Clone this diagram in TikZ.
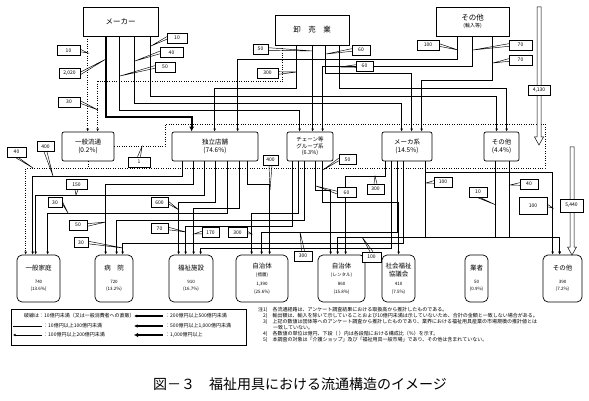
\documentclass[tikz,border=0pt]{standalone}
\usepackage{fontspec}
\setmainfont{Noto Sans CJK JP}
\usetikzlibrary{arrows.meta}
\newcommand\nsm{\fontsize{4.5}{5.2}\selectfont}
\newcommand\flowc[6][]{\draw[cn,#1] (#2.south west) ++(#3,0) -- ++(0,#4) -| ([xshift=#6pt]#5.north west);}
\newcommand\labh[6][20]{\node[lbl,minimum width=#1pt] (#2) at (#3) {#4};\draw[tailc] ([yshift=1.3pt]#2.#5) -- (#6) -- ([yshift=-1.3pt]#2.#5);}
\newcommand\labv[6][20]{\node[lbl,minimum width=#1pt] (#2) at (#3) {#4};\draw[tailc] ([xshift=1.5pt]#2.#5) -- (#6) -- ([xshift=-1.5pt]#2.#5);}
\tikzset{
 cn/.style={line width=.6pt,-{Latex[length=3pt,width=2.6pt]}},
 w1/.style={line width=.6pt},
 w2/.style={line width=.85pt},
 w3/.style={line width=1.1pt},
 w4/.style={line width=1.5pt},
 w5/.style={line width=2.2pt,-{Latex[length=5pt,width=5pt]}},
 dot/.style={line width=.65pt,dash pattern=on .6pt off 1.8pt},
 lbl/.style={draw,line width=.5pt,fill=white,inner sep=.5pt,minimum height=10pt,font=\fontsize{5}{5}\selectfont},
 tailc/.style={line width=.45pt},
 topbox/.style={draw,line width=.7pt,inner sep=0pt,align=center,font=\fontsize{7.5}{9}\selectfont},
 midbox/.style={draw,line width=.7pt,rounded corners=2pt,inner sep=0pt,align=center,minimum height=29pt,font=\fontsize{6.5}{7.5}\selectfont},
 botbox/.style={draw,line width=.7pt,rounded corners=5pt,inner sep=0pt,align=center,minimum height=47pt,font=\fontsize{6.5}{7.5}\selectfont},
 lgt/.style={inner sep=0pt,font=\fontsize{5}{6}\selectfont},
}
\begin{document}
\begin{tikzpicture}[x=1pt,y=-1pt]
\useasboundingbox (0,0) rectangle (589,401);
% top nodes
\node[topbox,minimum width=75pt,minimum height=29pt] (maker) at (120.5,21.5) {メーカー};
\node[topbox,minimum width=74pt,minimum height=30pt] (oroshi) at (312,30) {卸　売　業};
\node[topbox,minimum width=73pt,minimum height=29pt] (sonotaIn) at (472.5,21.5) {その他\\[-2pt]{\fontsize{5}{6}\selectfont (輸入等)}};
% middle nodes
\node[midbox,minimum width=52pt] (ippan) at (88,146.5) {一般流通\\(0.2\%)};
\node[midbox,minimum width=86pt] (dok) at (215,146.5) {独立店舗\\(74.6\%)};
\node[midbox,minimum width=46pt,font=\fontsize{5.5}{6.3}\selectfont] (chain) at (310,146.5) {チェーン等\\グループ系\\(6.3\%)};
\node[midbox,minimum width=50pt] (makerkei) at (407,146.5) {メーカ系\\(14.5\%)};
\node[midbox,minimum width=35pt] (sonotaM) at (501.5,146.5) {その他\\(4.4\%)};
% bottom nodes
\node[botbox,minimum width=43pt] (home) at (38.5,278.5) {一般家庭\\[5pt]{\nsm 740}\\{\nsm (13.6\%)}};
\node[botbox,minimum width=38pt] (hosp) at (114,278.5) {病　院\\[5pt]{\nsm 720}\\{\nsm (13.2\%)}};
\node[botbox,minimum width=44pt] (fuku) at (191,278.5) {福祉施設\\[5pt]{\nsm 910}\\{\nsm (16.7\%)}};
\node[botbox,minimum width=52pt] (jichi1) at (262,278.5) {自治体\\{\nsm (措置)}\\[2pt]{\nsm 1,390}\\{\nsm (25.6\%)}};
\node[botbox,minimum width=47pt] (jichi2) at (341.5,278.5) {自治体\\{\nsm (レンタル)}\\[2pt]{\nsm 860}\\{\nsm (15.8\%)}};
\node[botbox,minimum width=33pt] (shakyo) at (398.5,278.5) {社会福祉\\協議会\\[2pt]{\nsm 410}\\{\nsm (7.5\%)}};
\node[botbox,minimum width=23pt] (gyosha) at (476.5,278.5) {業者\\[5pt]{\nsm 50}\\{\nsm (0.9\%)}};
\node[botbox,minimum width=39pt] (sonotaB) at (562.5,278.5) {その他\\[5pt]{\nsm 390}\\{\nsm (7.2\%)}};
% dotted flows
\coordinate (dA) at (165,146.5);
\coordinate (dB) at (545,124);
\coordinate (dC) at (88,168);
\draw[dot] (ippan.east) -- (dA) |- (dB) |- (dC);
\draw[dot,-{Latex[length=3pt,width=2.6pt]}] (ippan.south) -- ++(0,7) -| ([xshift=9pt]home.north west);
\flowc[dot]{maker}{5}{20}{ippan}{26}
\flowc[dot]{oroshi}{8}{36}{ippan}{36}
% upper flows
\flowc[w5]{maker}{23}{81}{dok}{20}
\flowc[w1]{maker}{37}{74}{chain}{13}
\flowc[w1]{maker}{52}{67}{makerkei}{20}
\flowc[w1]{maker}{68}{60}{sonotaM}{13}
\flowc[w3]{oroshi}{22}{43}{dok}{43}
\flowc[w1]{oroshi}{38}{20}{chain}{26}
\flowc[w1]{oroshi}{51}{28}{makerkei}{30}
\flowc[w1]{oroshi}{65}{43}{sonotaM}{23}
\flowc[w2]{sonotaIn}{22}{23}{dok}{66}
\flowc[w1]{sonotaIn}{37}{30}{chain}{36}
\flowc[w1]{sonotaIn}{57}{44}{makerkei}{40}
% lower flows
\flowc[w3]{dok}{11}{15}{home}{16}
\flowc[w1]{dok}{22}{23}{hosp}{11}
\flowc[w2]{dok}{33}{34}{home}{19}
\flowc[w4]{dok}{44}{41}{fuku}{10}
\flowc[w1]{dok}{56}{52}{home}{31}
\flowc[w2]{dok}{68}{47}{fuku}{25}
\flowc[w3]{dok}{76}{23}{jichi1}{34}
\flowc[w1]{chain}{6}{65}{fuku}{17}
\flowc[w3]{chain}{12}{52}{jichi1}{16}
\flowc[w1]{chain}{18}{59}{hosp}{22}
\flowc[w1]{chain}{29}{29}{jichi2}{13}
\flowc[w2]{chain}{36}{41}{shakyo}{17}
\flowc[w3]{makerkei}{4}{15}{jichi2}{28}
\flowc[w1]{makerkei}{10}{87}{fuku}{32}
\flowc[w1]{makerkei}{16}{71}{jichi1}{26}
\flowc[w1]{makerkei}{22}{82}{hosp}{28}
\flowc[w2]{makerkei}{44}{11}{sonotaB}{10}
\flowc[w2]{makerkei}{44}{76}{sonotaB}{17}
\flowc[w1]{sonotaM}{12}{76}{jichi2}{20}
\flowc[w1]{sonotaM}{26}{76}{sonotaB}{17}
% total bars
\draw[fill=white,line width=.5pt] (537,7) -- (537,137) -- (534.5,137) -- (539,145) -- (543.5,137) -- (541,137) -- (541,7) -- cycle;
\draw[fill=white,line width=.5pt] (570,147) -- (570,247) -- (567.5,247) -- (572,255) -- (576.5,247) -- (574,247) -- (574,147) -- cycle;
\node[lbl,minimum width=22pt] (t1) at (539,90.5) {4,130};
\node[lbl,minimum width=23pt,minimum height=13pt] (t2) at (571.5,205.5) {5,440};
% labels top
\labh[23]{la1}{68.5,50.5}{10}{east}{88,53}
\labh[21]{la2}{69.5,73.5}{2,020}{east}{106,59}
\labh[22]{la3}{69,102}{30}{east}{98,110}
\labh[20]{la4}{177,38}{10}{west}{151,46}
\labh[23]{la5}{171.5,52.5}{40}{west}{135,61}
\labh[20]{la6}{165,67}{50}{west}{120,76}
\labh[15]{la7}{260.5,49}{50}{east}{313,51}
\labh[21]{la8}{267.5,73}{300}{east}{297,72}
\labh[18]{la9}{361,50}{60}{west}{326,54}
\labh[17]{la10}{364.5,66}{60}{west}{340,67}
\labh[22]{la11}{428,45}{100}{east}{458,50}
\labh[23]{la12}{520.5,45}{70}{west}{473,50}
\labh[23]{la13}{520.5,60}{70}{west}{493,63}
% labels lower
\labv[19]{lb1}{16.5,152}{40}{south}{33,168}
\labv[17]{lb2}{45.5,146.5}{400}{south}{53,176}
\labv[22]{lb3}{139,162}{1}{north}{142,146.5}
\labv[21]{lb4}{76.5,184.5}{150}{south}{76,195}
\labh[14]{lb5}{55,202.5}{30}{east}{68,213}
\labh[18]{lb6}{78,225}{50}{east}{106,222}
\labh[14]{lb7}{81,242.5}{30}{east}{123,248}
\labh[17]{lb8}{159.5,202.5}{600}{east}{179,210}
\labh[17]{lb9}{159.5,228.5}{70}{east}{186,232}
\labh[17]{lb10}{210.5,232.5}{170}{west}{194,234}
\labh[19]{lb11}{237.5,232.5}{300}{east}{252,234}
\labv[15]{lb12}{270.5,160}{400}{south}{270,190}
\labh[17]{lb13}{347.5,159.5}{50}{west}{323,170}
\labh[19]{lb14}{346.5,192.5}{60}{west}{316,186}
\labv[17]{lb15}{375.5,189}{300}{north}{375,176}
\labv[18]{lb16}{303,256}{300}{north}{300,232}
\labv[19]{lb17}{371.5,257}{100}{north}{362,237}
\labh[18]{lb18}{443,182}{100}{west}{426,183}
\labv[18]{lb19}{478,192}{10}{south}{496,205}
\labh[18]{lb20}{529,184}{40}{west}{510,185}
\node[lbl,minimum width=28pt,minimum height=17pt] (lb21) at (533,205.5) {100};
\draw[tailc] ([yshift=1.3pt]lb21.east) -- (553,208) -- ([yshift=-1.3pt]lb21.east);
% legend
\node[draw,line width=.6pt,minimum width=235pt,minimum height=36pt,inner sep=0pt] (legend) at (128.5,327) {};
\node[lgt,anchor=west] (lg1) at (24,316) {破線は：10億円未満（又は一般消費者への直販）};
\draw[w1] (13,326) -- (42,326);
\node[lgt,anchor=west] (lg2) at (43,326) {：10億円以上100億円未満};
\draw[w2,{Latex[length=2.5pt,width=2.5pt]}-] (13,335) -- (42,335);
\node[lgt,anchor=west] (lg3) at (43,335) {：100億円以上200億円未満};
\draw[w3,{Latex[length=3pt,width=3pt]}-] (134,316) -- (163,316);
\node[lgt,anchor=west] (lg4) at (165,316) {：200億円以上500億円未満};
\draw[w4,{Latex[length=3.5pt,width=3.5pt]}-] (134,326) -- (163,326);
\node[lgt,anchor=west] (lg5) at (165,326) {：500億円以上1,000億円未満};
\draw[line width=2.2pt,{Latex[length=4pt,width=4.5pt]}-] (134,335) -- (163,335);
\node[lgt,anchor=west] (lg6) at (165,335) {：1,000億円以上};
% notes
\node[anchor=north west,align=left,inner sep=0pt,font=\fontsize{5}{6}\selectfont] (notes) at (258,307) {注1)　各流通経路は、アンケート調査結果における取扱高から推計したものである。\\
　2)　輸出額は、輸入を除いて示していることおよび10億円未満は示していないため、合計の金額と一致しない場合がある。\\
　3)　上記の数値は団体等へのアンケート調査から推計したものであり、業界における福祉用具産業の市場規模の推計値とは\\
　　　一致していない。\\
　4)　各数値の単位は億円、下段（ ）内は各段階における構成比（％）を示す。\\
　5)　本調査の対象は「介護ショップ」及び「福祉用具一般市場」であり、その他は含まれていない。};
% title
\node[font=\fontsize{14}{16}\selectfont,inner sep=0pt] (title) at (300,384) {図－３　福祉用具における流通構造のイメージ};
\end{tikzpicture}
\end{document}
